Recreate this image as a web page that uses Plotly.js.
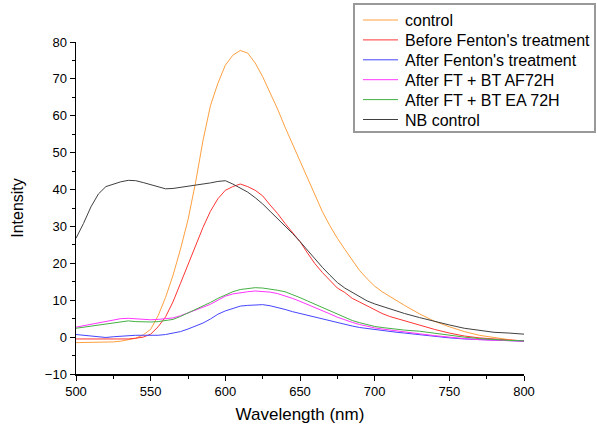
<!DOCTYPE html>
<html><head><meta charset="utf-8">
<script src="https://cdn.plot.ly/plotly-3.0.1.min.js"></script>
<style>html,body{margin:0;padding:0;background:#fff}#chart{width:597px;height:428px}</style>
</head><body><div id="chart"></div>
<script>
const seriesNames = ["control","Before Fenton's treatment","After Fenton's treatment","After FT + BT AF72H","After FT + BT EA 72H","NB control"];
const seriesColors = ["#FFA040","#FF3535","#4545FF","#FF35FF","#45B045","#404040"];

const wlA = [500,505,510,515,520,525,530,535,540,545,550,555,560,565,570,575,580,585,590,595,600,605,610,615,620,625,630,635,640,645,650,655,660,665,670,675,680,685,690,695,700,705,710,715,720,730,740,750,760,770,780,790,800];
const control = [-1.5,-1.5,-1.5,-1.4,-1.4,-1.3,-1.1,-0.8,-0.3,0.6,2.1,5.8,10.8,16.8,23.9,31.8,41.8,53.2,62.7,68.8,73.7,76.4,77.7,77.0,74.3,70.6,66.3,61.8,56.9,52.4,47.9,43.3,38.5,34.0,30.2,26.8,23.8,20.8,18.0,15.8,13.8,12.3,11.0,9.9,8.6,6.3,4.3,2.8,1.5,0.5,-0.2,-0.7,-1.1];
const beforeFT = [-0.5,-0.5,-0.6,-0.6,-0.6,-0.6,-0.6,-0.5,-0.3,0.0,0.8,2.8,5.5,9.6,14.6,19.8,24.8,29.7,34.1,37.5,39.8,40.8,41.5,40.8,39.8,38.3,35.8,33.5,30.8,28.3,25.9,22.8,19.9,17.5,15.3,13.3,12.1,10.5,9.5,8.5,7.3,6.4,5.6,5.0,4.5,3.3,2.1,1.1,0.3,-0.2,-0.6,-0.8,-1.0];
const afterFT = [0.7,0.5,0.3,0.0,-0.1,0.1,0.3,0.4,0.5,0.5,0.4,0.5,0.7,1.0,1.5,2.2,3.0,3.8,4.9,6.2,7.1,7.8,8.4,8.6,8.7,8.8,8.5,8.1,7.5,6.9,6.4,5.9,5.5,4.9,4.3,3.9,3.5,3.0,2.6,2.3,2.1,1.8,1.5,1.3,1.1,0.6,0.2,-0.2,-0.5,-0.7,-0.9,-1.0,-1.1];
const afterAF = [2.7,3.1,3.4,3.9,4.3,4.6,5.0,5.1,4.9,4.7,4.7,4.8,4.9,5.2,5.8,6.5,7.3,8.1,8.9,10.1,11.1,11.7,12.1,12.3,12.5,12.4,12.2,11.8,11.2,10.5,9.7,8.9,8.1,7.2,6.3,5.4,4.6,4.0,3.4,2.9,2.5,2.2,1.9,1.6,1.4,0.9,0.4,-0.1,-0.4,-0.7,-0.9,-1.0,-1.1];
const afterEA = [2.4,2.7,3.0,3.3,3.6,3.9,4.2,4.4,4.2,4.1,4.1,4.2,4.4,4.8,5.6,6.5,7.4,8.4,9.4,10.5,11.5,12.3,12.9,13.2,13.4,13.3,13.1,12.7,12.3,11.6,10.7,9.8,8.9,8.0,7.1,6.2,5.3,4.5,3.9,3.3,2.9,2.6,2.3,2.1,1.9,1.6,1.0,0.5,0.0,-0.4,-0.7,-0.9,-1.0];
const nbControl = [26.8,30.8,35.3,38.8,40.8,41.5,42.1,42.5,42.4,41.9,41.3,40.6,40.2,40.3,40.6,40.8,41.0,41.3,41.8,42.2,42.4,41.5,40.3,39.3,37.8,36.1,34.1,32.1,30.3,28.1,25.9,23.5,21.1,18.9,16.8,14.8,13.3,12.1,10.9,9.8,9.0,8.3,7.7,7.1,6.4,5.3,4.2,3.3,2.4,1.8,1.3,1.1,0.8];

const seriesY = [control, beforeFT, afterFT, afterAF, afterEA, nbControl];
const data = seriesY.map((y,i)=>({
  x: wlA, y: y, type:'scatter', mode:'lines', name: seriesNames[i],
  line:{color: seriesColors[i], width:1}, showlegend:false
}));

// plot area in pixels (for placing the legend box in paper units)
const W = 597, H = 428, mL = 76, mR = 73, mT = 42, mB = 54;
const pw = W - mL - mR, ph = H - mT - mB;
const px = v => (v - mL) / pw;
const py = v => (H - mB - v) / ph;

const shapes = [{type:'rect', xref:'paper', yref:'paper', x0:px(354), x1:px(595), y0:py(132), y1:py(4),
  line:{color:'#999', width:2}, fillcolor:'#fff', layer:'above'}];
const annotations = [];
seriesNames.forEach((n,i)=>{
  const yy = 20 + 19.9*i;
  shapes.push({type:'line', xref:'paper', yref:'paper', x0:px(363), x1:px(398), y0:py(yy), y1:py(yy),
    line:{color:seriesColors[i], width:1}, layer:'above'});
  annotations.push({xref:'paper', yref:'paper', x:px(403), y:py(yy+0.5), xanchor:'left', yanchor:'middle',
    text:n, showarrow:false, font:{size:16, color:'#000'}});
});

const layout = {
  width:W, height:H,
  margin:{l:mL, r:mR, t:mT, b:mB},
  paper_bgcolor:'#fff', plot_bgcolor:'#fff',
  font:{family:'Liberation Sans, Arial, sans-serif', color:'#000', size:13},
  showlegend:false,
  shapes: shapes, annotations: annotations,
  xaxis:{range:[500,800], tick0:500, dtick:50, ticks:'outside', ticklen:5, tickwidth:1, tickcolor:'#000',
    showline:true, linecolor:'#000', linewidth:1.5, showgrid:false, zeroline:false, mirror:false,
    minor:{dtick:25, ticks:'outside', ticklen:3, tickcolor:'#000', showgrid:false},
    tickfont:{size:13},
    title:{text:'Wavelength (nm)', font:{size:17}, standoff:10}},
  yaxis:{range:[-10,80], tick0:-10, dtick:10, ticks:'outside', ticklen:5, tickwidth:1, tickcolor:'#000',
    showline:true, linecolor:'#000', linewidth:1.5, showgrid:false, zeroline:false, mirror:false,
    minor:{dtick:5, ticks:'outside', ticklen:3, tickcolor:'#000', showgrid:false},
    tickfont:{size:13},
    title:{text:'Intensity', font:{size:16}, standoff:17}}
};
Plotly.newPlot('chart', data, layout, {displayModeBar:false, staticPlot:true});
</script></body></html>
